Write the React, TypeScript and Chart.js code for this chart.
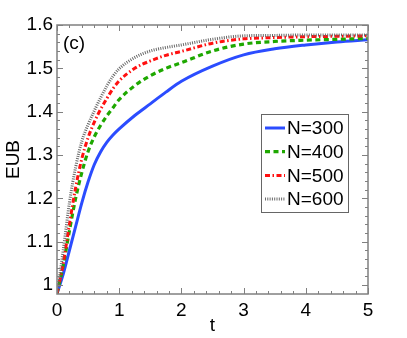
import React, { useEffect, useRef } from "react";
import { Chart, registerables } from "chart.js";

Chart.register(...registerables);

const T = [0, 0.1, 0.2, 0.3, 0.4, 0.5, 0.6, 0.7, 0.8, 0.9, 1.0, 1.25, 1.5, 1.75, 2, 2.5, 3, 3.5, 4, 4.5, 5];
const EUB_N300 = [0.98, 1.025, 1.08, 1.135, 1.19, 1.238, 1.278, 1.307, 1.329, 1.346, 1.36, 1.391, 1.418, 1.445, 1.47, 1.505, 1.531, 1.545, 1.554, 1.561, 1.566];
const EUB_N400 = [0.98, 1.045, 1.125, 1.2, 1.26, 1.308, 1.342, 1.368, 1.39, 1.409, 1.428, 1.46, 1.483, 1.5, 1.513, 1.54, 1.556, 1.562, 1.565, 1.567, 1.569];
const EUB_N500 = [0.98, 1.05, 1.14, 1.225, 1.292, 1.34, 1.376, 1.405, 1.43, 1.453, 1.471, 1.5, 1.517, 1.53, 1.539, 1.558, 1.568, 1.571, 1.573, 1.574, 1.575];
const EUB_N600 = [0.98, 1.08, 1.19, 1.272, 1.332, 1.37, 1.402, 1.432, 1.459, 1.482, 1.499, 1.525, 1.54, 1.548, 1.554, 1.567, 1.575, 1.576, 1.577, 1.577, 1.577];
const SERIES_LABELS = ["N=300", "N=400", "N=500", "N=600"];
const Y_TICKS = [1, 1.1, 1.2, 1.3, 1.4, 1.5, 1.6];
const X_TICKS = [0, 1, 2, 3, 4, 5];
const PANEL_LABEL = "(c)";

const FONT = "'Liberation Sans', Arial, sans-serif";

const styles = [
  { color: "#2b4cff", width: 3, dash: [] as number[] },
  { color: "#1ea800", width: 3.2, dash: [5, 3.5] },
  { color: "#ff1010", width: 3, dash: [5, 2.5, 1.5, 2.5] },
  { color: "#6a6a6a", width: 3, dash: [1, 1.3] },
];

const frameAndLegend = {
  id: "frameAndLegend",
  afterDatasetsDraw(chart: any) {
    const { ctx, chartArea: a, scales } = chart;
    const xs = scales.x;
    const ys = scales.y;
    ctx.save();
    ctx.strokeStyle = "#808080";
    ctx.lineWidth = 1.5;
    ctx.strokeRect(a.left, a.top, a.right - a.left, a.bottom - a.top);
    ctx.lineWidth = 1;
    ctx.beginPath();
    for (let i = 0; i <= 25; i++) {
      const v = i * 0.2;
      const px = Math.round(xs.getPixelForValue(v)) + 0.5;
      const len = i % 5 === 0 ? 6 : 3;
      ctx.moveTo(px, a.bottom);
      ctx.lineTo(px, a.bottom - len);
      ctx.moveTo(px, a.top);
      ctx.lineTo(px, a.top + len);
    }
    for (let i = 0; i <= 30; i++) {
      const v = 1 + i * 0.02;
      if (v > 1.6001) break;
      const py = Math.round(ys.getPixelForValue(v)) + 0.5;
      const len = i % 5 === 0 ? 6 : 3;
      ctx.moveTo(a.left, py);
      ctx.lineTo(a.left + len, py);
      ctx.moveTo(a.right, py);
      ctx.lineTo(a.right - len, py);
    }
    ctx.stroke();

    ctx.fillStyle = "#000";
    ctx.font = `19px ${FONT}`;
    ctx.textBaseline = "alphabetic";
    ctx.textAlign = "left";
    ctx.fillText(PANEL_LABEL, a.left + 6, a.top + 24);

    const lx = a.right - 107;
    const ly = a.top + 89;
    const lw = 87;
    const lh = 98;
    ctx.fillStyle = "#fff";
    ctx.fillRect(lx, ly, lw, lh);
    ctx.strokeStyle = "#666";
    ctx.lineWidth = 1;
    ctx.strokeRect(lx + 0.5, ly + 0.5, lw, lh);
    SERIES_LABELS.forEach((lab, i) => {
      const cy = ly + 14 + i * 23.7;
      const st = styles[i];
      ctx.save();
      ctx.strokeStyle = st.color;
      ctx.lineWidth = st.width;
      ctx.setLineDash(st.dash);
      ctx.beginPath();
      ctx.moveTo(lx + 4, cy);
      ctx.lineTo(lx + 24, cy);
      ctx.stroke();
      ctx.restore();
      ctx.fillStyle = "#000";
      ctx.font = `19px ${FONT}`;
      ctx.textBaseline = "middle";
      ctx.textAlign = "left";
      ctx.fillText(lab, lx + 26, cy + 1);
    });
    ctx.restore();
  },
};

export default function App() {
  const ref = useRef<HTMLCanvasElement>(null);
  useEffect(() => {
    document.body.style.margin = "0";
    const series = [EUB_N300, EUB_N400, EUB_N500, EUB_N600];
    const chart = new Chart(ref.current!, {
      type: "line",
      data: {
        datasets: series.map((s, i) => ({
          label: SERIES_LABELS[i],
          data: T.map((t, j) => ({ x: t, y: s[j] })),
          borderColor: styles[i].color,
          borderWidth: styles[i].width,
          borderDash: styles[i].dash,
          pointRadius: 0,
          fill: false,
          cubicInterpolationMode: "monotone" as const,
          order: 3 - i,
        })),
      },
      options: {
        animation: false,
        responsive: false,
        maintainAspectRatio: false,
        layout: { padding: { left: 0, right: 39, top: 25, bottom: 0 } },
        plugins: { legend: { display: false }, tooltip: { enabled: false } },
        scales: {
          x: {
            type: "linear",
            min: 0,
            max: 5,
            border: { display: false },
            grid: { display: false, drawTicks: false },
            afterBuildTicks: (s: any) => {
              s.ticks = X_TICKS.map((v) => ({ value: v }));
            },
            afterFit: (s: any) => {
              s.height = 44;
            },
            ticks: {
              color: "#000",
              font: { family: FONT, size: 19 },
              padding: 5,
              maxRotation: 0,
              callback: (v: any) => String(v),
            },
            title: {
              display: true,
              text: "t",
              color: "#000",
              font: { family: FONT, size: 19 },
              padding: { top: 0, bottom: 1 },
            },
          },
          y: {
            type: "linear",
            min: 0.979,
            max: 1.6,
            border: { display: false },
            grid: { display: false, drawTicks: false },
            afterBuildTicks: (s: any) => {
              s.ticks = Y_TICKS.map((v) => ({ value: v }));
            },
            afterFit: (s: any) => {
              s.width = 57;
            },
            ticks: {
              color: "#000",
              font: { family: FONT, size: 19 },
              padding: 4,
              callback: (v: any) => (v === 1 ? "1" : Number(v).toFixed(1)),
            },
            title: {
              display: true,
              text: "EUB",
              color: "#000",
              font: { family: FONT, size: 19 },
              padding: { top: 2, bottom: 0 },
            },
          },
        },
      },
      plugins: [frameAndLegend],
    });
    return () => chart.destroy();
  }, []);
  return (
    <div style={{ position: "absolute", left: 0, top: 0, width: 407, height: 338, background: "#fff" }}>
      <canvas ref={ref} width={407} height={338} style={{ width: 407, height: 338 }} />
    </div>
  );
}
